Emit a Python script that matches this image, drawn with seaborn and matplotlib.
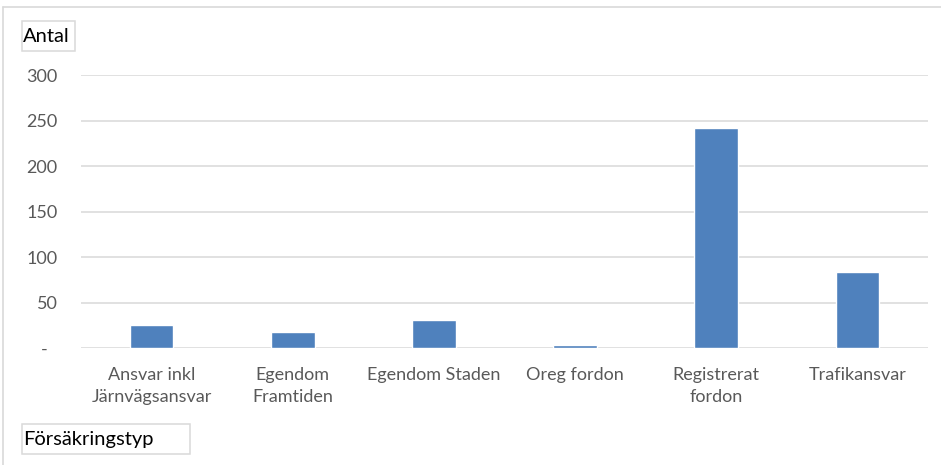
import matplotlib
matplotlib.use("Agg")
import matplotlib.pyplot as plt
from matplotlib.lines import Line2D
from matplotlib.patches import Rectangle
import pandas as pd
import seaborn as sns

# ------------------------------------------------------------
# DATA
# ------------------------------------------------------------
categories = ["Ansvar inkl\nJärnvägsansvar", "Egendom\nFramtiden", "Egendom Staden",
              "Oreg fordon", "Registrerat\nfordon", "Trafikansvar"]
counts = [25, 18, 31, 3, 242, 83]
y_ticks = [0, 50, 100, 150, 200, 250, 300]
y_ticklabels = ["-  ", "50", "100", "150", "200", "250", "300"]

sns.set_theme(style="white")
plt.rcParams["font.family"] = ["Lato", "DejaVu Sans"]

W, H = 941, 465
GRID = "#d9d9d9"
BAR = "#4f81bd"
TICK = "#595959"


def px(x0, y0, x1, y1):
    # pixel box (top-left origin) -> figure fraction rect
    return [x0 / W, 1 - y1 / H, (x1 - x0) / W, (y1 - y0) / H]


fig = plt.figure(figsize=(W / 100, H / 100), dpi=100)
ax = fig.add_axes(px(81, 75, 928, 348))

df = pd.DataFrame({"typ": categories, "antal": counts})
sns.barplot(data=df, x="typ", y="antal", color=BAR, saturation=1,
            width=0.31, ax=ax)

ax.set_ylim(0, 300)
ax.set_xlim(-0.5, len(categories) - 0.5)
ax.set_yticks(y_ticks)
ax.set_yticklabels(y_ticklabels)
ax.yaxis.grid(True, color=GRID, linewidth=1.1)
ax.set_axisbelow(True)
for s in ax.spines.values():
    s.set_visible(False)
ax.tick_params(axis="both", length=0, colors=TICK, labelsize=13)
ax.tick_params(axis="y", pad=17)
ax.tick_params(axis="x", pad=14)
ax.set_xlabel("")
ax.set_ylabel("")
for lab in ax.get_xticklabels():
    lab.set_linespacing(1.42)

# outer chart border (left + top visible)
fig.add_artist(Line2D([3 / W, 3 / W], [0, 1 - 7 / H], color=GRID, linewidth=1.2))
fig.add_artist(Line2D([3 / W, 1], [1 - 7 / H, 1 - 7 / H], color=GRID, linewidth=1.2))

# axis title boxes
for (x0, y0, x1, y1), txt in [((22, 21, 75, 51), "Antal"),
                              ((22, 424, 190, 454), "Försäkringstyp")]:
    r = px(x0, y0, x1, y1)
    fig.add_artist(Rectangle((r[0], r[1]), r[2], r[3], transform=fig.transFigure,
                             facecolor="white", edgecolor=GRID, linewidth=1.1))
    fig.text((x0 + 1) / W, 1 - ((y0 + y1) / 2) / H, txt, fontsize=14.5,
             color="black", ha="left", va="center")

fig.savefig("out.png", dpi=100)
